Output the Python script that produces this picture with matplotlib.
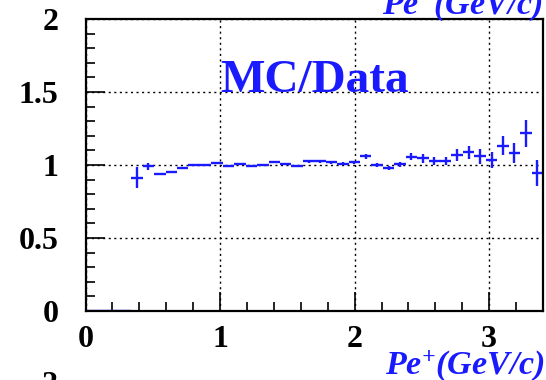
import numpy as np
import matplotlib
matplotlib.use("Agg")
import matplotlib.pyplot as plt
from matplotlib.ticker import MultipleLocator, FixedLocator

plt.rcParams['mathtext.fontset'] = 'custom'
plt.rcParams['mathtext.rm'] = 'Liberation Serif:bold:italic'
plt.rcParams['mathtext.it'] = 'Liberation Serif:bold:italic'
plt.rcParams['mathtext.bf'] = 'Liberation Serif:bold:italic'

# 40 momentum bins from 0 to 3.4 GeV/c
bin_edges = np.linspace(0, 3.4, 41)
ratio = [0.0, 0.0, 0.0, 0.0,
         0.914, 0.990, 0.938, 0.952, 0.977, 1.002, 1.002, 1.016, 0.995, 1.010,
         0.993, 1.000, 1.020, 1.010, 0.996, 1.025, 1.025, 1.020, 1.009, 1.020,
         1.059, 1.000, 0.980, 1.004, 1.056, 1.045, 1.027, 1.027, 1.070, 1.088,
         1.059, 1.034, 1.131, 1.082, 1.216, 0.945]
ratio_err = [0.0, 0.0, 0.0, 0.0,
             0.074, 0.023, 0.006, 0.006, 0.006, 0.006, 0.006, 0.006, 0.006, 0.006,
             0.006, 0.006, 0.006, 0.006, 0.006, 0.010, 0.010, 0.010, 0.010, 0.010,
             0.017, 0.015, 0.015, 0.016, 0.025, 0.030, 0.027, 0.027, 0.040, 0.045,
             0.049, 0.057, 0.065, 0.070, 0.090, 0.086]

centers = 0.5 * (bin_edges[:-1] + bin_edges[1:])
half_width = 0.5 * np.diff(bin_edges)

blue = '#1a1aff'
serif = 'Liberation Serif'

fig = plt.figure(figsize=(5.46, 3.8), dpi=100)
ax = fig.add_axes([0.1566, 0.1816, 0.8379, 0.7684])

ax.errorbar(centers, ratio, yerr=ratio_err, xerr=half_width, fmt='none',
            ecolor=blue, elinewidth=1.7, capsize=0)

ax.set_xlim(0, 3.4)
ax.set_ylim(0, 2)
ax.xaxis.set_major_locator(FixedLocator([0, 1, 2, 3]))
ax.xaxis.set_minor_locator(MultipleLocator(0.2))
ax.yaxis.set_major_locator(FixedLocator([0, 0.5, 1, 1.5, 2]))
ax.yaxis.set_minor_locator(MultipleLocator(0.1))

ax.grid(True, which='major', color='black', linestyle=(0, (1.5, 2.5)), linewidth=1)
ax.tick_params(which='both', direction='in', top=False, right=False, width=1.2, color='black')
ax.tick_params(which='major', length=14)
ax.tick_params(which='minor', length=6.5)
ax.tick_params(axis='y', which='major', pad=19.5)
ax.tick_params(axis='x', which='major', pad=10)
for spine in ax.spines.values():
    spine.set_linewidth(1.6)

ax.set_yticklabels(['0', '0.5', '1', '1.5', '2'])
for lab in ax.get_xticklabels() + ax.get_yticklabels():
    lab.set_fontfamily(serif)
    lab.set_fontweight('bold')
    lab.set_fontsize(23)

ax.text(1.0, 1.5, 'MC/Data', color=blue, fontfamily=serif, fontweight='bold',
        fontsize=34, ha='left', va='baseline')

fig.text(545 / 546, 1 - 374 / 380, 'Pe$^{+}$(GeV/c)', color=blue, fontfamily=serif,
         fontweight='bold', fontstyle='italic', fontsize=24.5, ha='right', va='baseline')
# neighbouring panels, clipped by the figure edge
fig.text(543 / 546, 1 - 14 / 380, 'Pe$^{-}$(GeV/c)', color=blue, fontfamily=serif,
         fontweight='bold', fontstyle='italic', fontsize=24.5, ha='right', va='baseline')
fig.text(58 / 546, 1 - 371 / 380, '2', color='black', fontfamily=serif,
         fontweight='bold', fontsize=23, ha='right', va='top')

fig.savefig('out.png', dpi=100)
